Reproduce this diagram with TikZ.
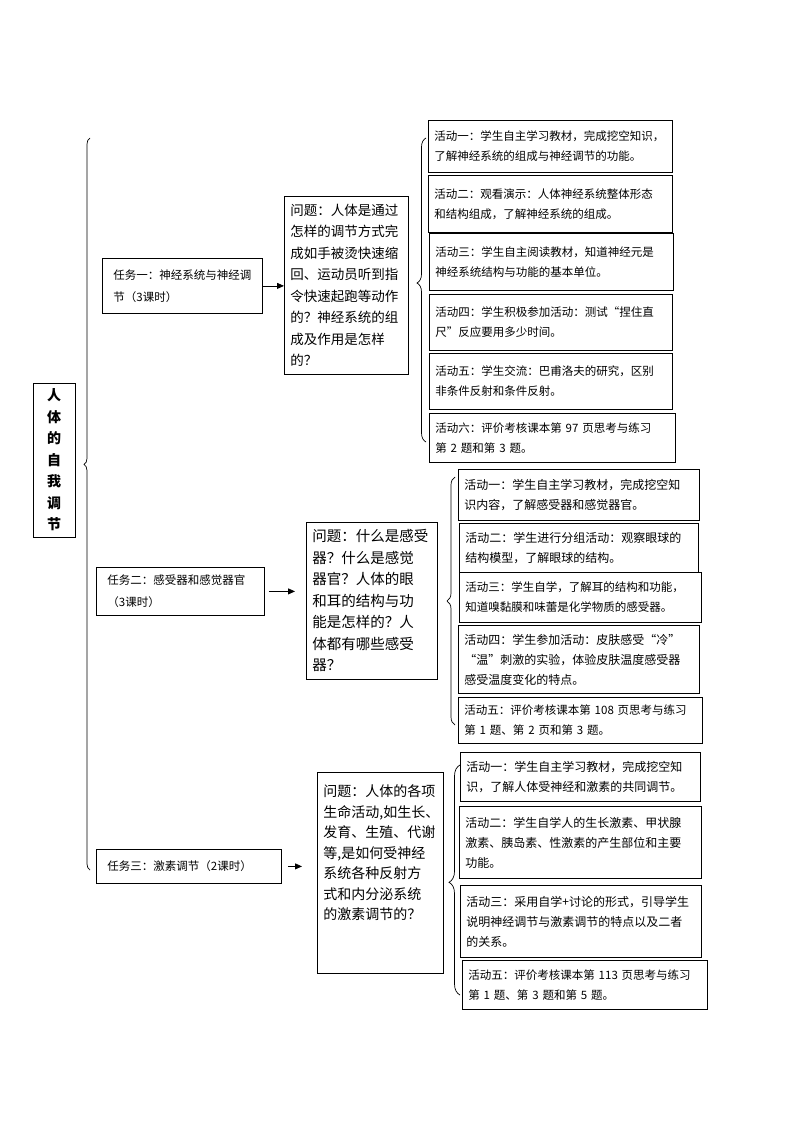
\documentclass[tikz,border=0pt]{standalone}
\usepackage{fontspec}
\newfontfamily\cjk{Noto Sans CJK SC}
\usetikzlibrary{arrows.meta,decorations.pathreplacing}

\tikzset{
  box/.style={draw, line width=0.8pt, align=left},
  title/.style={box, align=center, minimum width=42pt, minimum height=154pt, font=\cjk\bfseries\fontsize{14}{21.5}\selectfont},
  task/.style 2 args={box, anchor=north west, minimum width=#1pt, text width=#1pt-22pt, minimum height=#2pt, font=\cjk\fontsize{11.5}{22}\selectfont},
  ask/.style 2 args={box, anchor=north west, minimum width=#1pt, text width=#1pt-12pt, minimum height=#2pt},
  act/.style 2 args={box, anchor=north west, minimum width=#1pt, text width=#1pt-12pt, minimum height=#2pt, font=\cjk\fontsize{11.5}{20}\selectfont},
  wide/.style={font=\cjk\fontsize{12}{20}\selectfont},
  arr/.style={-{Triangle[length=7pt,width=6pt]}, line width=0.8pt},
  brc/.style 2 args={decorate, decoration={brace, mirror, amplitude=#1pt, aspect=#2}, line width=0.7pt},
}

\begin{document}
\begin{tikzpicture}[x=1pt,y=-1pt]
\useasboundingbox (0,0) rectangle (794,1123);

\node[title] (main) at (54,460) {人\\体\\的\\自\\我\\调\\节};
\draw[brc={6}{0.446}] (90,138) -- (90,870);

% task 1
\node[task={160}{55}] (t1) at (102,258) {任务一：神经系统与神经调\\节（3课时）};
\node[ask={124}{178}, font=\cjk\fontsize{13.5}{21.5}\selectfont] (q1) at (284,196)
  {问题：人体是通过\\怎样的调节方式完\\成如手被烫快速缩\\回、运动员听到指\\令快速起跑等动作\\的？神经系统的组\\成及作用是怎样\\的？};
\draw[arr] (t1.east) -- (t1.east -| q1.west);
\draw[brc={9}{0.477}] (426,138) -- (426,442);
\node[act={244}{52}] (a11) at (428,120) {活动一：学生自主学习教材，完成挖空知识，\\了解神经系统的组成与神经调节的功能。};
\node[act={244}{57}] (a12) at (428,175) {活动二：观看演示：人体神经系统整体形态\\和结构组成，了解神经系统的组成。};
\node[act={244}{57}] (a13) at (429,233) {活动三：学生自主阅读教材，知道神经元是\\神经系统结构与功能的基本单位。};
\node[act={243}{56}] (a14) at (429,294) {活动四：学生积极参加活动：测试“捏住直\\尺”反应要用多少时间。};
\node[act={243}{56}] (a15) at (429,353) {活动五：学生交流：巴甫洛夫的研究，区别\\非条件反射和条件反射。};
\node[act={246}{49}] (a16) at (429,413) {活动六：评价考核课本第~97~页思考与练习\\第~2~题和第~3~题。};

% task 2
\node[task={168}{48}] (t2) at (96,567) {任务二：感受器和感觉器官\\（3课时）};
\node[ask={131}{157}, font=\cjk\fontsize{14.5}{21.5}\selectfont] (q2) at (306,522)
  {问题：什么是感受\\器？什么是感觉\\器官？人体的眼\\和耳的结构与功\\能是怎样的？人\\体都有哪些感受\\器？};
\draw[arr, shorten <=4pt, shorten >=11pt] (t2.east) -- (t2.east -| q2.west);
\draw[brc={8}{0.5}] (455,477) -- (455,725);
\node[act={241}{51}, wide] (a21) at (458,469) {活动一：学生自主学习教材，完成挖空知\\识内容，了解感受器和感觉器官。};
\node[act={239}{49}, wide] (a22) at (459,523) {活动二：学生进行分组活动：观察眼球的\\结构模型，了解眼球的结构。};
\node[act={242}{50}] (a23) at (459,572) {活动三：学生自学，了解耳的结构和功能，\\知道嗅黏膜和味蕾是化学物质的感受器。};
\node[act={241}{68}, wide] (a24) at (458,625) {活动四：学生参加活动：皮肤感受“冷”\\“温”刺激的实验，体验皮肤温度感受器\\感受温度变化的特点。};
\node[act={244}{46}] (a25) at (458,697) {活动五：评价考核课本第~108~页思考与练习\\第~1~题、第~2~页和第~3~题。};

% task 3
\node[task={185}{34}] (t3) at (96,849) {任务三：激素调节（2课时）};
\node[ask={126}{201}, font=\cjk\fontsize{14}{20.5}\selectfont] (q3) at (317,772)
  {问题：人体的各项\\生命活动,如生长、\\发育、生殖、代谢\\等,是如何受神经\\系统各种反射方\\式和内分泌系统\\的激素调节的？\\ \mbox{}\\ \mbox{}};
\draw[arr, shorten <=6pt, shorten >=15pt] (t3.east) -- (t3.east -| q3.west);
\draw[brc={11}{0.51}] (460,765) -- (460,995);
\node[act={240}{49}, wide] (a31) at (460,752) {活动一：学生自主学习教材，完成挖空知\\识，了解人体受神经和激素的共同调节。};
\node[act={242}{72}, wide] (a32) at (459,806) {活动二：学生自学人的生长激素、甲状腺\\激素、胰岛素、性激素的产生部位和主要\\功能。};
\node[act={241}{72}, wide] (a33) at (460,885) {活动三：采用自学+讨论的形式，引导学生\\说明神经调节与激素调节的特点以及二者\\的关系。};
\node[act={245}{49}] (a35) at (462,960) {活动五：评价考核课本第~113~页思考与练习\\第~1~题、第~3~题和第~5~题。};
\end{tikzpicture}
\end{document}
